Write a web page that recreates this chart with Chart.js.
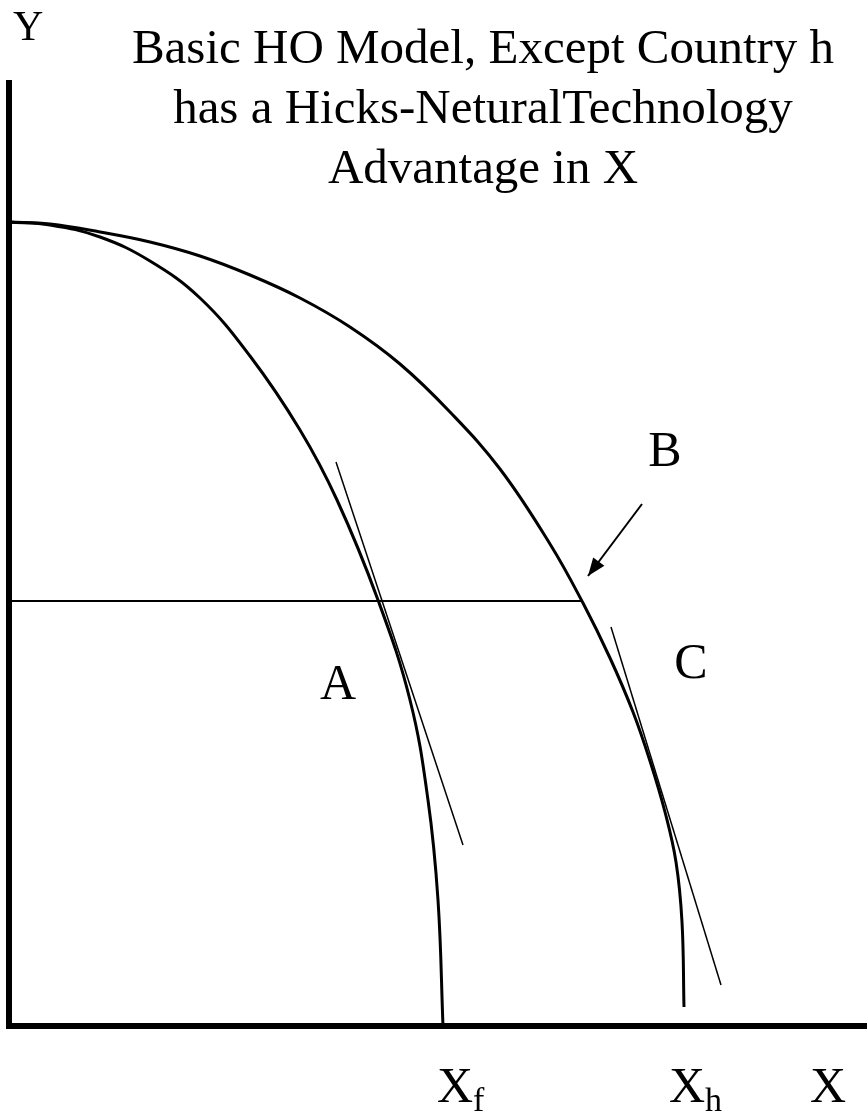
<!DOCTYPE html>
<html>
<head>
<meta charset="utf-8">
<title>Basic HO Model – Hicks-neutral technology advantage</title>
<script src="https://cdn.jsdelivr.net/npm/chart.js@4.4.1/dist/chart.umd.min.js"></script>
<style>
  html, body { margin: 0; padding: 0; background: #fff; }
  #wrap { width: 867px; height: 1116px; position: relative; }
</style>
</head>
<body>
<div id="wrap"><canvas id="ppf"></canvas></div>
<script>

// Production possibility frontier of country f (inner)
const fX = [0, 41, 91, 141, 191, 241, 291, 328, 369, 401, 419, 429, 434];
const fY = [804, 801, 789, 765, 728, 670, 596, 526, 426, 326, 226, 126, 0];

// Production possibility frontier of country h (outer)
const hX = [0, 41, 91, 141, 191, 241, 291, 341, 391, 441, 491, 541, 574, 601, 624, 641, 656, 667, 673, 675];
const hY = [804, 802, 794, 784, 770, 751, 728, 699, 662, 614, 557, 482, 423, 368, 314, 265, 214, 164, 104, 19];

// axes corner polyline
const axisX = [0, 0, 858];
const axisY = [946, 0, 0];

// horizontal guide at A's Y level, price tangents at A and C, arrow to B
const guideX = [0, 572];
const guideY = [425, 425];
const tanAX = [327, 454];
const tanAY = [564, 181];
const tanCX = [602, 712];
const tanCY = [399, 41];
const arrowX = [633, 579];
const arrowY = [522, 450];

// text
const titleLines = ['Basic HO Model, Except Country h', 'has a Hicks-NeturalTechnology', 'Advantage in X'];
const titleX = 474;
const titleY = [963, 903, 843];
const pointLabels = [
  { text: 'A', x: 329, y: 327 },
  { text: 'B', x: 656, y: 560 },
  { text: 'C', x: 682, y: 348 },
];
const axisLabels = [
  { text: 'Y', sub: '', x: 4, y: 986, size: 42 },
  { text: 'X', sub: 'f', x: 428, y: -76, size: 50 },
  { text: 'X', sub: 'h', x: 660, y: -76, size: 50 },
  { text: 'X', sub: '', x: 801, y: -76, size: 50 },
];

const SERIF = "'Liberation Serif', 'Times New Roman', Times, serif";

const pts = (xs, ys) => xs.map((x, i) => ({ x, y: ys[i] }));

function lineSet(xs, ys, width, extra) {
  return Object.assign({
    data: pts(xs, ys),
    showLine: true,
    borderColor: '#000',
    borderWidth: width,
    pointRadius: 0,
    pointHoverRadius: 0,
    tension: 0,
    fill: false,
    clip: false,
  }, extra || {});
}

// ── text + arrowhead ─────────────────────────────────────────────

const annotate = {
  id: 'annotate',
  afterDatasetsDraw(chart) {
    const { ctx, scales: { x, y } } = chart;
    ctx.save();
    ctx.fillStyle = '#000';

    // arrowhead at end of arrow
    const x0 = x.getPixelForValue(arrowX[0]), y0 = y.getPixelForValue(arrowY[0]);
    const x1 = x.getPixelForValue(arrowX[1]), y1 = y.getPixelForValue(arrowY[1]);
    const ang = Math.atan2(y1 - y0, x1 - x0);
    const len = 18, half = 7;
    ctx.beginPath();
    ctx.moveTo(x1, y1);
    ctx.lineTo(x1 - len * Math.cos(ang) + half * Math.sin(ang), y1 - len * Math.sin(ang) - half * Math.cos(ang));
    ctx.lineTo(x1 - len * Math.cos(ang) - half * Math.sin(ang), y1 - len * Math.sin(ang) + half * Math.cos(ang));
    ctx.closePath();
    ctx.fill();

    // title
    ctx.font = `49px ${SERIF}`;
    ctx.textAlign = 'center';
    ctx.textBaseline = 'alphabetic';
    titleLines.forEach((t, i) => ctx.fillText(t, x.getPixelForValue(titleX), y.getPixelForValue(titleY[i])));

    // A, B, C
    ctx.font = `50px ${SERIF}`;
    pointLabels.forEach(l => ctx.fillText(l.text, x.getPixelForValue(l.x), y.getPixelForValue(l.y)));

    // axis labels with subscripts
    ctx.textAlign = 'left';
    axisLabels.forEach(l => {
      const px = x.getPixelForValue(l.x), py = y.getPixelForValue(l.y);
      ctx.font = `${l.size}px ${SERIF}`;
      ctx.fillText(l.text, px, py);
      if (l.sub) {
        const w = ctx.measureText(l.text).width;
        ctx.font = `34px ${SERIF}`;
        ctx.fillText(l.sub, px + w, py + 9);
      }
    });
    ctx.restore();
  }
};

new Chart(document.getElementById('ppf'), {
  type: 'scatter',
  data: {
    datasets: [
      lineSet(axisX, axisY, 6, { borderJoinStyle: 'miter', borderCapStyle: 'butt' }),
      lineSet(fX, fY, 3, { tension: 0.4 }),
      lineSet(hX, hY, 3, { tension: 0.4 }),
      lineSet(guideX, guideY, 2),
      lineSet(tanAX, tanAY, 1.5),
      lineSet(tanCX, tanCY, 1.5),
      lineSet(arrowX, arrowY, 2),
    ],
  },
  options: {
    responsive: true,
    maintainAspectRatio: false,
    animation: false,
    layout: { padding: 0 },
    plugins: {
      legend: { display: false },
      title: { display: false },
      tooltip: { enabled: false },
    },
    events: [],
    scales: {
      x: { type: 'linear', display: false, min: -9, max: 858 },
      y: { type: 'linear', display: false, min: -90, max: 1026 },
    },
  },
  plugins: [annotate],
});
</script>
</body>
</html>
